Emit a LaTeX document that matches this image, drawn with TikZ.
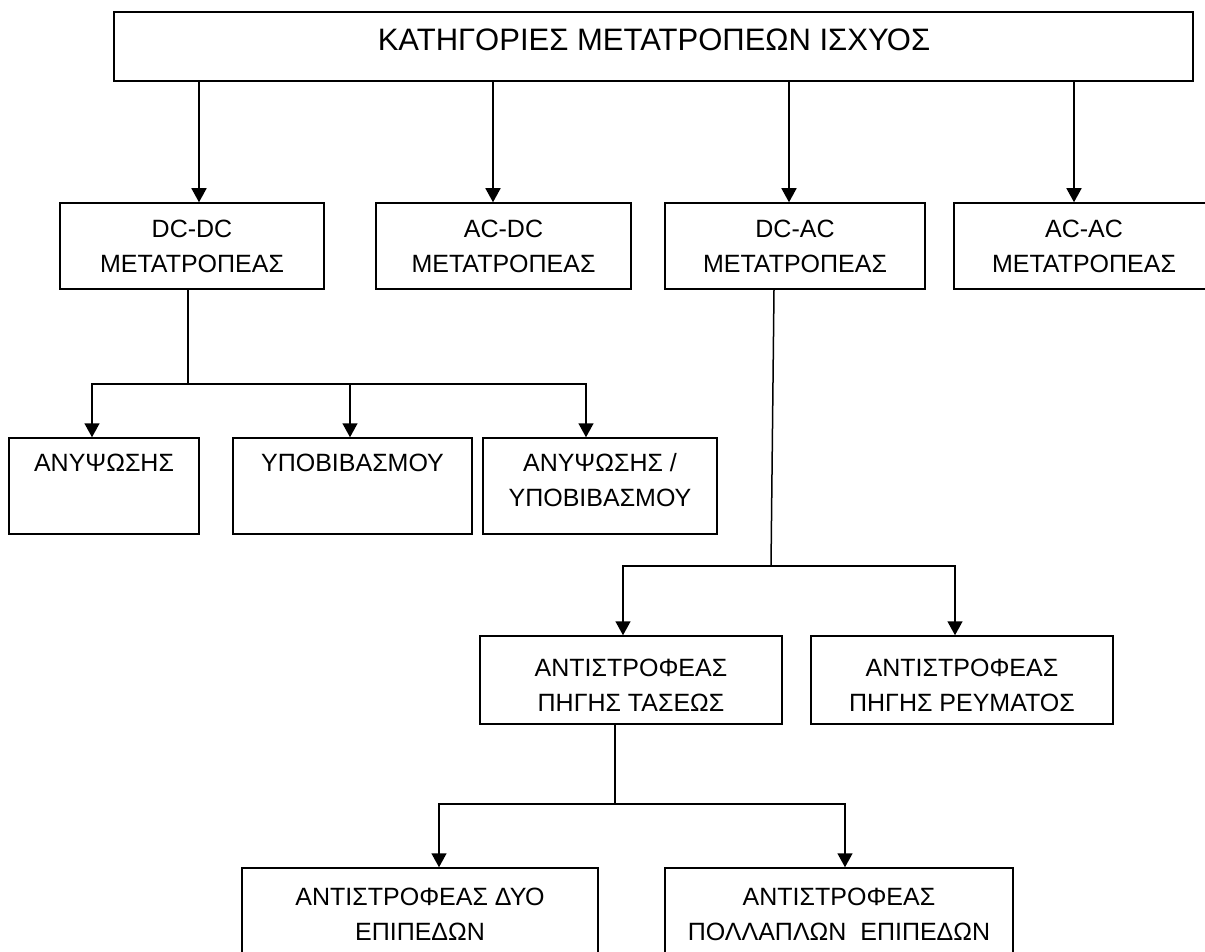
\documentclass[tikz,border=0pt]{standalone}
\usepackage{fontspec}
\setmainfont{Liberation Sans}
\usetikzlibrary{arrows.meta}
\tikzset{
  box/.style={draw=black, line width=1.5pt, rectangle, inner sep=0pt, fill=white},
  txt/.style={align=center, inner sep=0pt, font=\fontsize{25}{35}\selectfont},
  conn/.style={line width=1.5pt, black},
  arr/.style={conn, -{Triangle[length=14pt,width=15pt]}}
}
\begin{document}
\begin{tikzpicture}[x=1pt,y=-1pt]
\useasboundingbox (0,0) rectangle (1205,952);
\fill[white] (0,0) rectangle (1205,952);
\clip (0,0) rectangle (1205,952);

% top box
\node[box, minimum width=1079pt, minimum height=69pt] (top) at (653.5,46.5) {};
\node[txt, font=\fontsize{31}{37}\selectfont] (toptxt) at (654,40) {ΚΑΤΗΓΟΡΙΕΣ ΜΕΤΑΤΡΟΠΕΩΝ ΙΣΧΥΟΣ};

% row 2
\node[box, txt, draw, line width=1.5pt, minimum width=264pt, minimum height=86pt] (dcdc) at (192,246) {DC-DC\\ΜΕΤΑΤΡΟΠΕΑΣ};
\node[box, txt, draw, line width=1.5pt, minimum width=255pt, minimum height=86pt] (acdc) at (503.5,246) {AC-DC\\ΜΕΤΑΤΡΟΠΕΑΣ};
\node[box, txt, draw, line width=1.5pt, minimum width=260pt, minimum height=86pt] (dcac) at (795,246) {DC-AC\\ΜΕΤΑΤΡΟΠΕΑΣ};
\node[box, txt, draw, line width=1.5pt, minimum width=260pt, minimum height=86pt] (acac) at (1084,246) {AC-AC\\ΜΕΤΑΤΡΟΠΕΑΣ};

% row 3
\node[box, minimum width=190pt, minimum height=96pt] (anyps) at (104,486) {};
\node[txt] (anypst) at (104,463) {ΑΝΥΨΩΣΗΣ};
\node[box, minimum width=239pt, minimum height=96pt] (ypo) at (352.5,486) {};
\node[txt] (ypot) at (352.5,463) {ΥΠΟΒΙΒΑΣΜΟΥ};
\node[box, minimum width=234pt, minimum height=96pt] (anyy) at (600,486) {};
\node[txt] (anyyt) at (600,480.5) {ΑΝΥΨΩΣΗΣ /\\ΥΠΟΒΙΒΑΣΜΟΥ};

% row 4
\node[box, minimum width=302pt, minimum height=88pt] (inv1) at (631,680) {};
\node[txt] (inv1t) at (631,685) {ΑΝΤΙΣΤΡΟΦΕΑΣ\\ΠΗΓΗΣ ΤΑΣΕΩΣ};
\node[box, minimum width=302pt, minimum height=88pt] (inv2) at (962,680) {};
\node[txt] (inv2t) at (962,685) {ΑΝΤΙΣΤΡΟΦΕΑΣ\\ΠΗΓΗΣ ΡΕΥΜΑΤΟΣ};

% row 5
\node[box, minimum width=356pt, minimum height=102pt] (two) at (420,919) {};
\node[txt] (twot) at (420,914.5) {ΑΝΤΙΣΤΡΟΦΕΑΣ ΔΥΟ\\ΕΠΙΠΕΔΩΝ};
\node[box, minimum width=348pt, minimum height=102pt] (multi) at (839,919) {};
\node[txt] (multit) at (839,914.5) {ΑΝΤΙΣΤΡΟΦΕΑΣ\\ΠΟΛΛΑΠΛΩΝ\ \ ΕΠΙΠΕΔΩΝ};

% connectors from top
\draw[arr] ([xshift=7pt]dcdc.north |- top.south) -- ([xshift=7pt]dcdc.north);
\draw[arr] ([xshift=-10.5pt]acdc.north |- top.south) -- ([xshift=-10.5pt]acdc.north);
\draw[arr] ([xshift=-6pt]dcac.north |- top.south) -- ([xshift=-6pt]dcac.north);
\draw[arr] ([xshift=-10pt]acac.north |- top.south) -- ([xshift=-10pt]acac.north);

% DC-DC branches
\draw[conn] ([xshift=-4pt]dcdc.south) -- ++(0,94) coordinate (j1);
\draw[arr] (j1) -| ([xshift=-12pt]anyps.north);
\draw[arr] (j1) -| ([xshift=-2.5pt]ypo.north);
\draw[arr] (j1) -| ([xshift=-14pt]anyy.north);

% DC-AC branches
\coordinate (j2) at (771,566);
\draw[conn] ([xshift=-21pt]dcac.south) -- (j2);
\draw[arr] (j2) -| ([xshift=-8pt]inv1.north);
\draw[arr] (j2) -| ([xshift=-7pt]inv2.north);

% inverter branches
\draw[conn] ([xshift=-16pt]inv1.south) -- ++(0,79) coordinate (j3);
\draw[arr] (j3) -| ([xshift=19pt]two.north);
\draw[arr] (j3) -| ([xshift=6pt]multi.north);
\end{tikzpicture}
\end{document}
